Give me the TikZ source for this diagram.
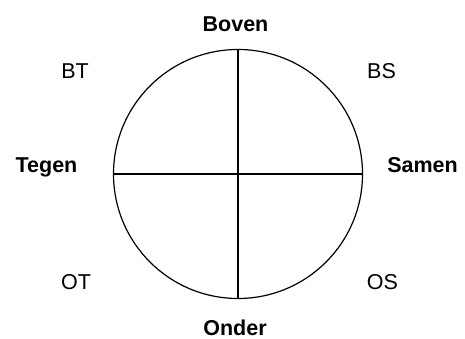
\documentclass[tikz,border=0pt]{standalone}
\usepackage{fontspec}
\setmainfont{Liberation Sans}
\usepackage{xcolor}
\usepackage{tikz}
\usetikzlibrary{positioning}
\definecolor{zw}{RGB}{0,0,0}
\newcommand{\ZW}[1]{\textcolor{zw}{#1}}

\begin{document}
\begin{tikzpicture}[x=1pt,y=1pt,
  lbl/.style={anchor=base,inner sep=0pt,font=\fontsize{21.5}{24}\selectfont},
  lblb/.style={lbl,font=\fontsize{21.5}{24}\selectfont\bfseries}]
  \useasboundingbox (0,0) rectangle (465,339);

  % wheel with cross
  \node[draw=zw,circle,line width=1.2pt,minimum size=249pt,inner sep=0pt] (wheel) at (238,165) {};
  \draw[line width=1.2pt,zw] (wheel.north) -- (wheel.south);
  \draw[line width=1.2pt,zw] (wheel.west) -- (wheel.east);

  % main directions
  \node[lblb] (boven) at (235.5,307) {\ZW{Boven}};
  \node[lblb] (onder) at (235,3.5) {\ZW{Onder}};
  \node[lblb] (tegen) at (46.5,166) {\ZW{Tegen}};
  \node[lblb] (samen) at (422.5,166) {\ZW{Samen}};

  % corners
  \node[lbl] (bt) at (75,260) {\ZW{BT}};
  \node[lbl] (bs) at (381.5,260) {\ZW{BS}};
  \node[lbl] (ot) at (76,49) {\ZW{OT}};
  \node[lbl] (os) at (382.5,49) {\ZW{OS}};
\end{tikzpicture}
\end{document}
